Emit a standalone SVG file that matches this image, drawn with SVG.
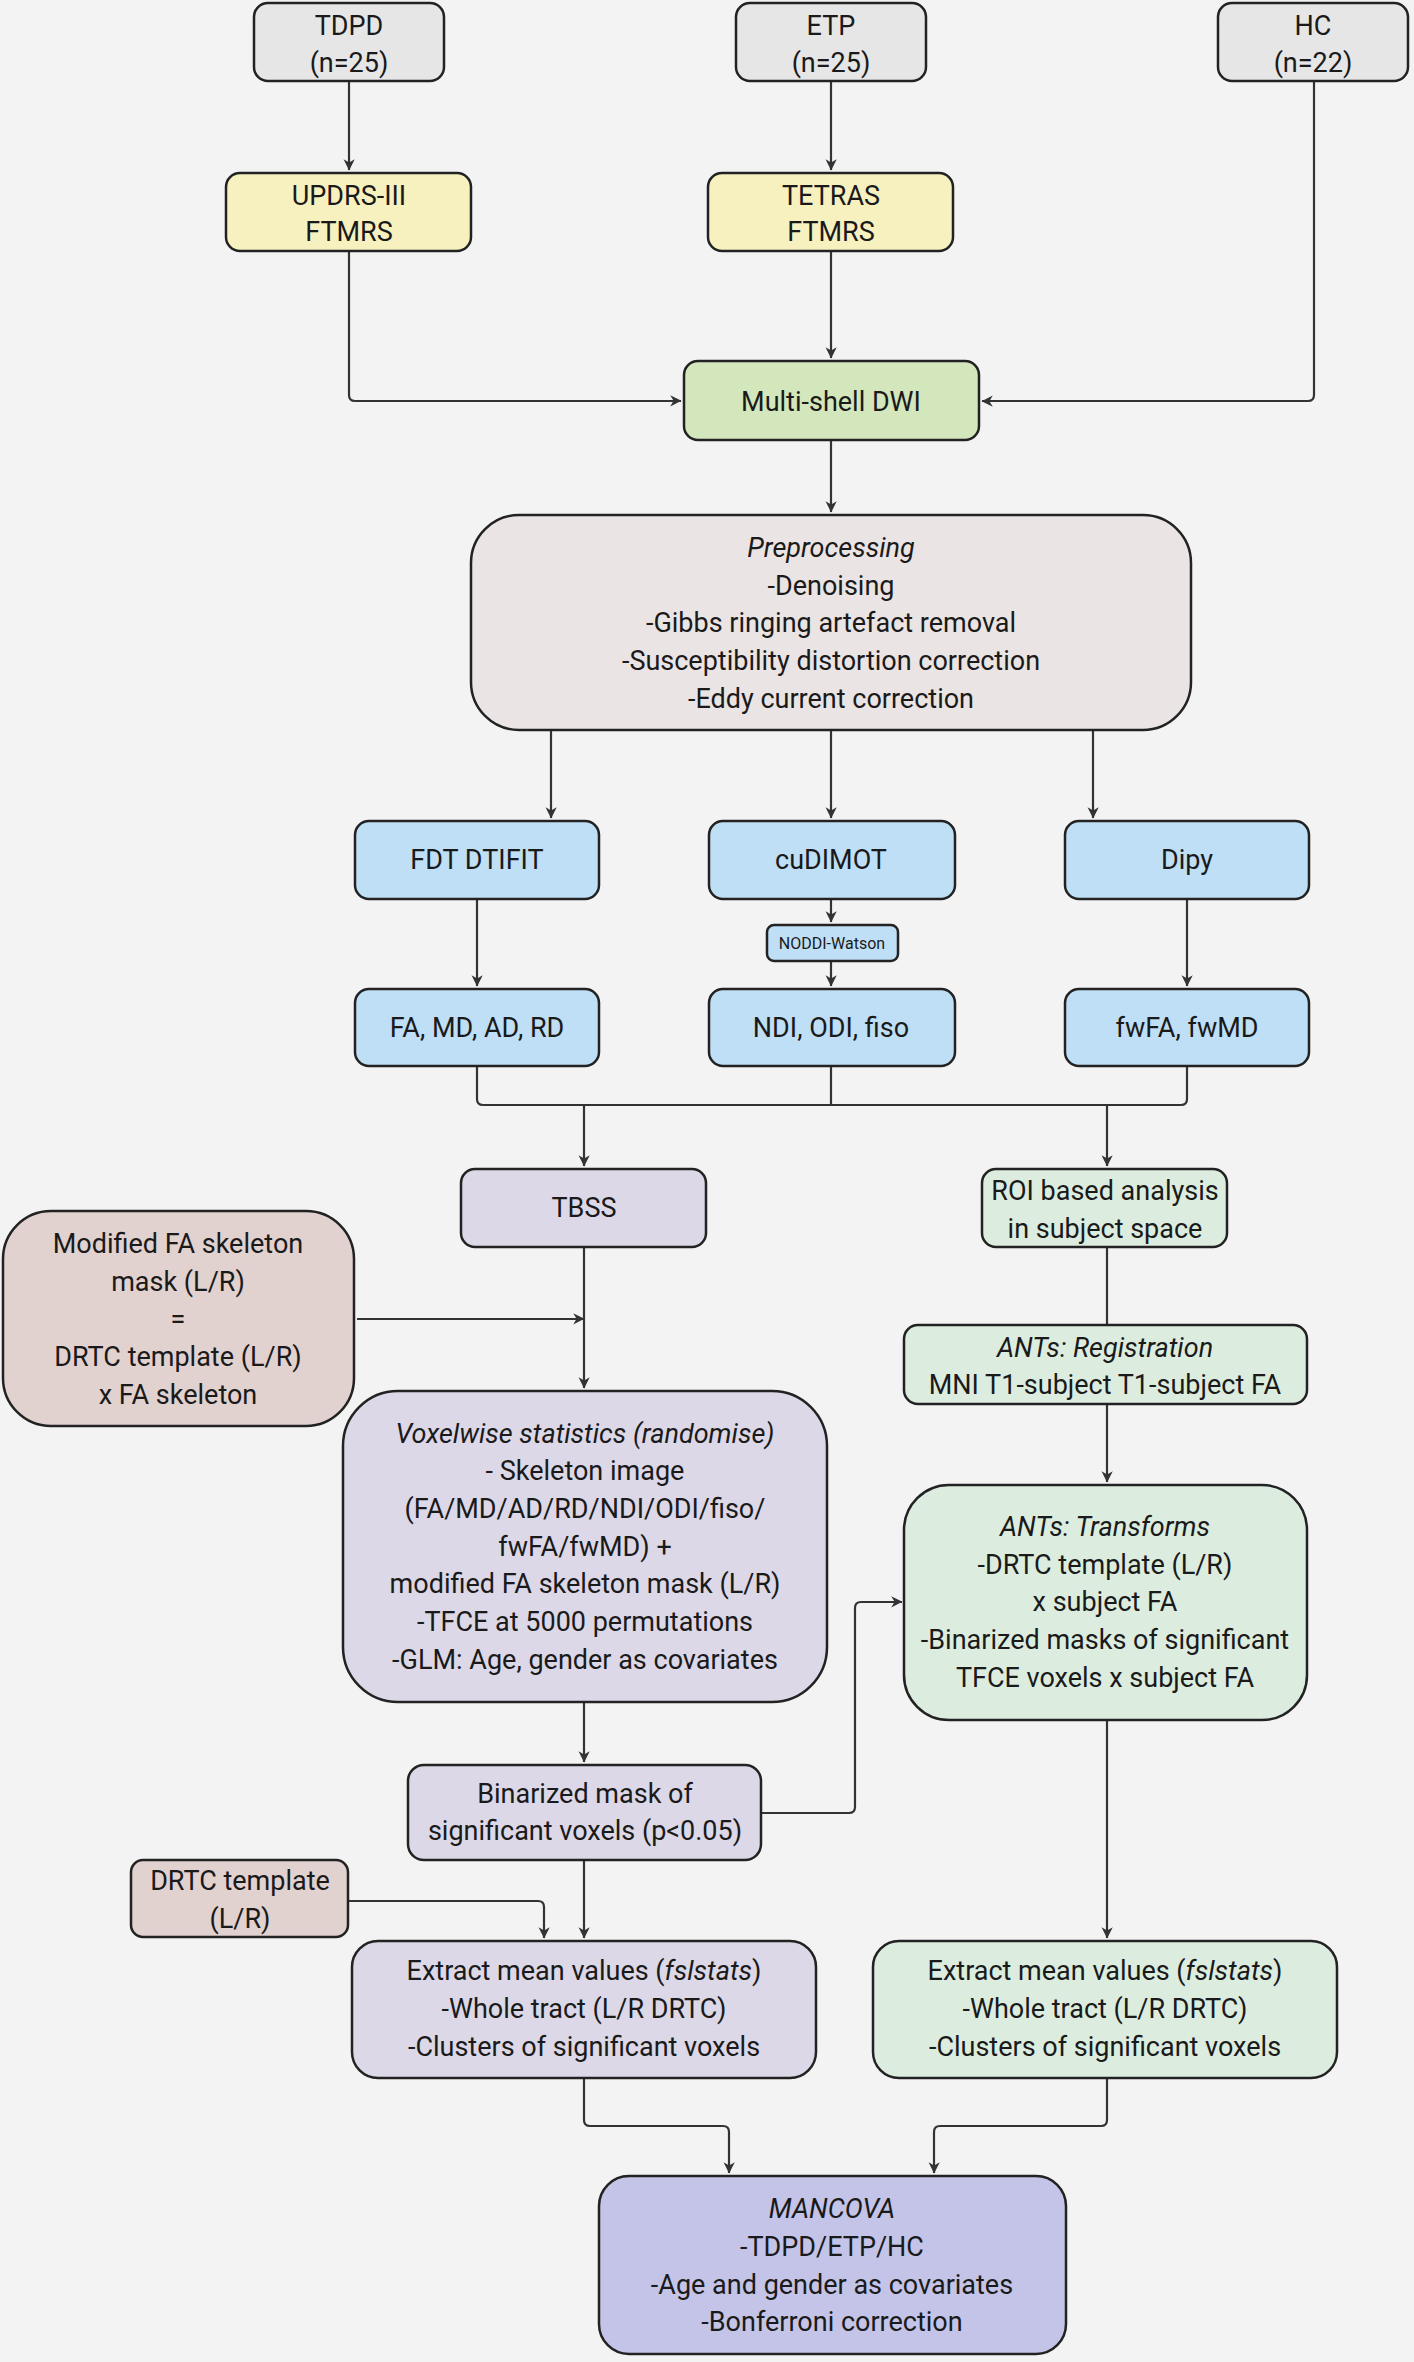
<svg xmlns="http://www.w3.org/2000/svg" width="1414" height="2362" viewBox="0 0 1414 2362">
<style>
.b{stroke:#222;stroke-width:2.5}
text{font-family:Roboto,"Noto Sans",sans-serif;font-size:27px;fill:#1a1a1a;text-anchor:middle;dominant-baseline:central}
.i{font-style:italic}
.c{fill:none;stroke:#333;stroke-width:2.2}
.gr{fill:#e6e6e6}.ye{fill:#f7f1c0}.gn{fill:#d3e6bc}.pp{fill:#ebe4e4}.bl{fill:#bfdff6}.pu{fill:#dcd8e8}.br{fill:#e1d1cf}.lg{fill:#dcede0}.mc{fill:#c4c4e8}
</style>
<defs><marker id="a" viewBox="0 0 10 10" refX="9" refY="5" markerWidth="7" markerHeight="7" markerUnits="userSpaceOnUse" orient="auto" style="overflow:visible"><path d="M0,0 L10,5 L0,10 L3,5 z" fill="#333" transform="scale(1.6) translate(-4,-2)"/></marker></defs>
<rect width="1414" height="2362" fill="#f3f3f3"/>
<g id="connectors" class="c" marker-end="url(#a)">
<path d="M349,81 V170"/><path d="M831,81 V170"/>
<path d="M1314,81 V395 Q1314,401 1308,401 H982"/>
<path d="M349,251 V395 Q349,401 355,401 H681"/>
<path d="M831,251 V358"/><path d="M831,440 V512"/>
<path d="M551,730 V818"/><path d="M831,730 V818"/><path d="M1093,730 V818"/>
<path d="M477,899 V986"/><path d="M1187,899 V986"/>
<path d="M831,899 V922"/><path d="M831,961 V986"/>
<path d="M477,1066 V1099 Q477,1105 483,1105 H1181 Q1187,1105 1187,1099 V1066" marker-end="none"/>
<path d="M831,1066 V1105" marker-end="none"/>
<path d="M584,1105 V1166"/><path d="M1107,1105 V1166"/>
<path d="M584,1247 V1388"/><path d="M357,1319 H584"/>
<path d="M1107,1247 V1325" marker-end="none"/>
<path d="M1107,1404 V1482"/>
<path d="M584,1702 V1762"/>
<path d="M761,1813 H849 Q855,1813 855,1807 V1608 Q855,1602 861,1602 H902"/>
<path d="M584,1860 V1938"/>
<path d="M348,1901 H538 Q544,1901 544,1907 V1938"/>
<path d="M1107,1720 V1938"/>
<path d="M584,2078 V2120 Q584,2126 590,2126 H723 Q729,2126 729,2132 V2173"/>
<path d="M1107,2078 V2120 Q1107,2126 1101,2126 H940 Q934,2126 934,2132 V2173"/>
</g>
<g id="tdpd"><rect class="b gr" x="254" y="3" width="190" height="78" rx="14"/><text x="349" y="26">TDPD</text><text x="349" y="63">(n=25)</text></g>
<g id="etp"><rect class="b gr" x="736" y="3" width="190" height="78" rx="14"/><text x="831" y="26">ETP</text><text x="831" y="63">(n=25)</text></g>
<g id="hc"><rect class="b gr" x="1218" y="3" width="190" height="78" rx="14"/><text x="1313" y="26">HC</text><text x="1313" y="63">(n=22)</text></g>
<g id="updrs"><rect class="b ye" x="226" y="173" width="245" height="78" rx="14"/><text x="349" y="196">UPDRS-III</text><text x="349" y="232">FTMRS</text></g>
<g id="tetras"><rect class="b ye" x="708" y="173" width="245" height="78" rx="14"/><text x="831" y="196">TETRAS</text><text x="831" y="232">FTMRS</text></g>
<g id="dwi"><rect class="b gn" x="684" y="361" width="295" height="79" rx="14"/><text x="831" y="402">Multi-shell DWI</text></g>
<g id="preproc"><rect class="b pp" x="471" y="515" width="720" height="215" rx="48"/><text x="831" y="548" class="i">Preprocessing</text><text x="831" y="586">-Denoising</text><text x="831" y="623">-Gibbs ringing artefact removal</text><text x="831" y="661">-Susceptibility distortion correction</text><text x="831" y="699">-Eddy current correction</text></g>
<g id="fdt"><rect class="b bl" x="355" y="821" width="244" height="78" rx="14"/><text x="477" y="860">FDT DTIFIT</text></g>
<g id="cudimot"><rect class="b bl" x="709" y="821" width="246" height="78" rx="14"/><text x="831" y="860">cuDIMOT</text></g>
<g id="dipy"><rect class="b bl" x="1065" y="821" width="244" height="78" rx="14"/><text x="1187" y="860">Dipy</text></g>
<g id="noddi"><rect class="b bl" x="767" y="925" width="131" height="36" rx="7"/><text x="832" y="943" style="font-size:16px">NODDI-Watson</text></g>
<g id="dti"><rect class="b bl" x="355" y="989" width="244" height="77" rx="14"/><text x="477" y="1028">FA, MD, AD, RD</text></g>
<g id="ndi"><rect class="b bl" x="709" y="989" width="246" height="77" rx="14"/><text x="831" y="1028">NDI, ODI, fiso</text></g>
<g id="fw"><rect class="b bl" x="1065" y="989" width="244" height="77" rx="14"/><text x="1187" y="1028">fwFA, fwMD</text></g>
<g id="tbss"><rect class="b pu" x="461" y="1169" width="245" height="78" rx="14"/><text x="584" y="1208">TBSS</text></g>
<g id="roi"><rect class="b lg" x="982" y="1169" width="245" height="78" rx="14"/><text x="1105" y="1191">ROI based analysis</text><text x="1105" y="1229">in subject space</text></g>
<g id="modfa"><rect class="b br" x="3" y="1211" width="351" height="215" rx="48"/><text x="178" y="1244">Modified FA skeleton</text><text x="178" y="1282">mask (L/R)</text><text x="178" y="1319">=</text><text x="178" y="1357">DRTC template (L/R)</text><text x="178" y="1395">x FA skeleton</text></g>
<g id="voxel"><rect class="b pu" x="343" y="1391" width="484" height="311" rx="55"/><text x="585" y="1434" class="i">Voxelwise statistics (randomise)</text><text x="585" y="1471">- Skeleton image</text><text x="585" y="1509">(FA/MD/AD/RD/NDI/ODI/fiso/</text><text x="585" y="1547">fwFA/fwMD) +</text><text x="585" y="1584">modified FA skeleton mask (L/R)</text><text x="585" y="1622">-TFCE at 5000 permutations</text><text x="585" y="1660">-GLM: Age, gender as covariates</text></g>
<g id="antsreg"><rect class="b lg" x="904" y="1325" width="403" height="79" rx="14"/><text x="1105" y="1348" class="i">ANTs: Registration</text><text x="1105" y="1385">MNI T1-subject T1-subject FA</text></g>
<g id="antstr"><rect class="b lg" x="904" y="1485" width="403" height="235" rx="45"/><text x="1105" y="1527" class="i">ANTs: Transforms</text><text x="1105" y="1565">-DRTC template (L/R)</text><text x="1105" y="1602">x subject FA</text><text x="1105" y="1640">-Binarized masks of significant</text><text x="1105" y="1678">TFCE voxels x subject FA</text></g>
<g id="binmask"><rect class="b pu" x="408" y="1765" width="353" height="95" rx="16"/><text x="585" y="1794">Binarized mask of</text><text x="585" y="1831">significant voxels (p&lt;0.05)</text></g>
<g id="drtc"><rect class="b br" x="131" y="1860" width="217" height="77" rx="12"/><text x="240" y="1881">DRTC template</text><text x="240" y="1919">(L/R)</text></g>
<g id="extl"><rect class="b pu" x="352" y="1941" width="464" height="137" rx="26"/><text x="584" y="1971">Extract mean values  (<tspan class="i">fslstats</tspan>)</text><text x="584" y="2009">-Whole tract (L/R DRTC)</text><text x="584" y="2047">-Clusters of significant voxels</text></g>
<g id="extr"><rect class="b lg" x="873" y="1941" width="464" height="137" rx="26"/><text x="1105" y="1971">Extract mean values (<tspan class="i">fslstats</tspan>)</text><text x="1105" y="2009">-Whole tract (L/R DRTC)</text><text x="1105" y="2047">-Clusters of significant voxels</text></g>
<g id="mancova"><rect class="b mc" x="599" y="2176" width="467" height="178" rx="30"/><text x="832" y="2209" class="i">MANCOVA</text><text x="832" y="2247">-TDPD/ETP/HC</text><text x="832" y="2285">-Age and gender as covariates</text><text x="832" y="2322">-Bonferroni correction</text></g>
</svg>
